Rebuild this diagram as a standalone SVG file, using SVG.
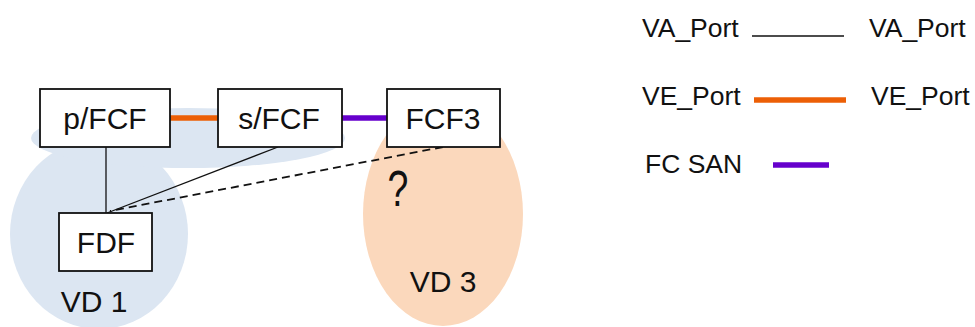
<svg xmlns="http://www.w3.org/2000/svg" width="975" height="327" viewBox="0 0 975 327">
<style>
text{font-family:"Liberation Sans",Arial,sans-serif;fill:#111;}
.node rect{fill:#fff;stroke:#111;stroke-width:1.8;}
.lbl{font-size:30px;text-anchor:middle;}
.leg{font-size:26.5px;}
.va{stroke:#111;stroke-width:1.3;fill:none;}
.ve{stroke:#ec5f06;stroke-width:5.5;fill:none;}
.fc{stroke:#6600cc;stroke-width:5.5;fill:none;}
.dash{stroke:#111;stroke-width:1.8;stroke-dasharray:8 5;fill:none;}
</style>
<rect width="975" height="327" fill="#fff"/>
<g id="regions">
<ellipse cx="99" cy="234" rx="89" ry="95" fill="#dce6f2"/>
<ellipse cx="188" cy="138" rx="157" ry="30" fill="#dce6f2"/>
<ellipse cx="443" cy="214" rx="80" ry="112" fill="#fbd8bc"/>
<text class="lbl" x="94" y="312">VD 1</text>
<text class="lbl" x="443" y="292">VD 3</text>
<text x="398" y="206" font-size="50" text-anchor="middle" transform="translate(398 0) scale(0.75 1) translate(-398 0)">?</text>
</g>
<g id="connectors">
<line class="ve" x1="170" y1="118" x2="218" y2="118"/>
<line class="fc" x1="342" y1="118" x2="387" y2="118"/>
<line class="va" x1="106" y1="147" x2="106" y2="213"/>
<line class="va" x1="278" y1="147" x2="107" y2="213"/>
<line class="dash" x1="443" y1="147" x2="110" y2="211"/>
</g>
<g id="pFCF" class="node"><rect x="40" y="89" width="130" height="58"/><text class="lbl" x="105" y="129">p/FCF</text></g>
<g id="sFCF" class="node"><rect x="218" y="89" width="124" height="58"/><text class="lbl" x="279" y="129">s/FCF</text></g>
<g id="FCF3" class="node"><rect x="387" y="89" width="113" height="58"/><text class="lbl" x="443" y="129">FCF3</text></g>
<g id="FDF" class="node"><rect x="59" y="213" width="93" height="58"/><text class="lbl" x="106" y="253">FDF</text></g>
<g id="legend">
<text class="leg" x="642" y="37">VA_Port</text>
<line class="va" x1="752" y1="36" x2="844" y2="36"/>
<text class="leg" x="869" y="37">VA_Port</text>
<text class="leg" x="642" y="105">VE_Port</text>
<line class="ve" x1="754" y1="100" x2="846" y2="100"/>
<text class="leg" x="871" y="105">VE_Port</text>
<text class="leg" x="645" y="173">FC SAN</text>
<line class="fc" x1="773" y1="165" x2="829" y2="165"/>
</g>
</svg>
